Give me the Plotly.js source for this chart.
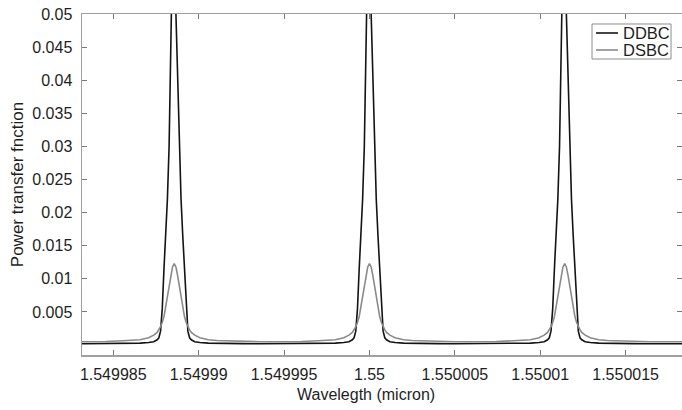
<!DOCTYPE html>
<html>
<head>
<meta charset="utf-8">
<script src="https://cdn.plot.ly/plotly-3.0.1.min.js"></script>
<style>
  html, body { margin: 0; padding: 0; background: #ffffff; }
  #chart { width: 682px; height: 410px; }
</style>
</head>
<body>
<div id="chart"></div>
<script>
// Wavelength samples (micron) across three resonances
const wavelength = [
  1.54998317,
  1.54998357, 1.54998457, 1.54998557, 1.54998607, 1.54998657, 1.54998707, 1.54998737, 1.54998757, 1.54998767,
  1.54998777, 1.54998787, 1.54998797, 1.54998807, 1.54998817, 1.54998827, 1.54998837, 1.54998847, 1.54998857,
  1.54998867, 1.54998877, 1.54998887, 1.54998897, 1.54998907, 1.54998917, 1.54998927, 1.54998937, 1.54998947,
  1.54998957, 1.54998977, 1.54999007, 1.54999057, 1.54999107, 1.54999157, 1.54999257, 1.54999357,
  1.54999429,
  1.549995, 1.549996, 1.549997, 1.5499975, 1.549998, 1.5499985, 1.5499988, 1.549999, 1.5499991,
  1.5499992, 1.5499993, 1.5499994, 1.5499995, 1.5499996, 1.5499997, 1.5499998, 1.5499999, 1.55,
  1.5500001, 1.5500002, 1.5500003, 1.5500004, 1.5500005, 1.5500006, 1.5500007, 1.5500008, 1.5500009,
  1.550001, 1.5500012, 1.5500015, 1.550002, 1.5500025, 1.550003, 1.550004, 1.550005,
  1.55000571,
  1.55000643, 1.55000743, 1.55000843, 1.55000893, 1.55000943, 1.55000993, 1.55001023, 1.55001043, 1.55001053,
  1.55001063, 1.55001073, 1.55001083, 1.55001093, 1.55001103, 1.55001113, 1.55001123, 1.55001133, 1.55001143,
  1.55001153, 1.55001163, 1.55001173, 1.55001183, 1.55001193, 1.55001203, 1.55001213, 1.55001223, 1.55001233,
  1.55001243, 1.55001263, 1.55001293, 1.55001343, 1.55001393, 1.55001443, 1.55001543, 1.55001643,
  1.55001743, 1.5500183
];

// Double-ring (DDBC) power transfer
const ddbc = [
  0.0002,
  0.0002, 0.00022, 0.00024, 0.00026, 0.0003, 0.00038, 0.0005, 0.0008, 0.0011,
  0.0021, 0.0055, 0.0115, 0.0165, 0.022, 0.030, 0.040, 0.050, 0.075,
  0.050, 0.040, 0.030, 0.022, 0.0165, 0.0115, 0.0055, 0.0021, 0.0011,
  0.0008, 0.0005, 0.00038, 0.0003, 0.00026, 0.00024, 0.00022, 0.0002,
  0.0002,
  0.0002, 0.00022, 0.00024, 0.00026, 0.0003, 0.00038, 0.0005, 0.0008, 0.0011,
  0.0021, 0.0055, 0.0115, 0.0165, 0.022, 0.030, 0.040, 0.050, 0.075,
  0.050, 0.040, 0.030, 0.022, 0.0165, 0.0115, 0.0055, 0.0021, 0.0011,
  0.0008, 0.0005, 0.00038, 0.0003, 0.00026, 0.00024, 0.00022, 0.0002,
  0.0002,
  0.0002, 0.00022, 0.00024, 0.00026, 0.0003, 0.00038, 0.0005, 0.0008, 0.0011,
  0.0021, 0.0055, 0.0115, 0.0165, 0.022, 0.030, 0.040, 0.050, 0.075,
  0.050, 0.040, 0.030, 0.022, 0.0165, 0.0115, 0.0055, 0.0021, 0.0011,
  0.0008, 0.0005, 0.00038, 0.0003, 0.00026, 0.00024, 0.00022, 0.0002,
  0.0002, 0.0002
];

// Single-ring (DSBC) power transfer
const dsbc = [
  0.0005,
  0.0005, 0.00055, 0.00065, 0.0007, 0.0008, 0.0011, 0.0015, 0.0019, 0.0023,
  0.0028, 0.0034, 0.0043, 0.0058, 0.0074, 0.0089, 0.0105, 0.0118, 0.0123,
  0.0118, 0.0105, 0.0089, 0.0074, 0.0058, 0.0043, 0.0034, 0.0028, 0.0023,
  0.0019, 0.0015, 0.0011, 0.0008, 0.0007, 0.00065, 0.00055, 0.0005,
  0.0005,
  0.0005, 0.00055, 0.00065, 0.0007, 0.0008, 0.0011, 0.0015, 0.0019, 0.0023,
  0.0028, 0.0034, 0.0043, 0.0058, 0.0074, 0.0089, 0.0105, 0.0118, 0.0123,
  0.0118, 0.0105, 0.0089, 0.0074, 0.0058, 0.0043, 0.0034, 0.0028, 0.0023,
  0.0019, 0.0015, 0.0011, 0.0008, 0.0007, 0.00065, 0.00055, 0.0005,
  0.0005,
  0.0005, 0.00055, 0.00065, 0.0007, 0.0008, 0.0011, 0.0015, 0.0019, 0.0023,
  0.0028, 0.0034, 0.0043, 0.0058, 0.0074, 0.0089, 0.0105, 0.0118, 0.0123,
  0.0118, 0.0105, 0.0089, 0.0074, 0.0058, 0.0043, 0.0034, 0.0028, 0.0023,
  0.0019, 0.0015, 0.0011, 0.0008, 0.0007, 0.00065, 0.00055, 0.0005,
  0.0005, 0.0005
];

// Axis ticks
const xTickVals = [1.549985, 1.54999, 1.549995, 1.55, 1.550005, 1.55001, 1.550015];
const xTickText = ['1.549985', '1.54999', '1.549995', '1.55', '1.550005', '1.55001', '1.550015'];
const yTickVals = [0.005, 0.01, 0.015, 0.02, 0.025, 0.03, 0.035, 0.04, 0.045, 0.05];
const yTickText = ['0.005', '0.01', '0.015', '0.02', '0.025', '0.03', '0.035', '0.04', '0.045', '0.05'];

// Series names and colours (shared by the traces and the legend box)
const seriesNames = ['DDBC', 'DSBC'];
const seriesColors = ['#141414', '#8a8a8a'];

const FONT = 'Liberation Sans, Arial, sans-serif';
const TEXT = '#1e1e1e';

const traces = [
  {
    x: wavelength, y: ddbc, name: seriesNames[0], type: 'scatter', mode: 'lines',
    line: { color: seriesColors[0], width: 1.6 }
  },
  {
    x: wavelength, y: dsbc, name: seriesNames[1], type: 'scatter', mode: 'lines',
    line: { color: seriesColors[1], width: 1.6 }
  }
];

const axisCommon = {
  showgrid: false, zeroline: false,
  showline: true, linecolor: '#a0a0a0', linewidth: 1.5,
  mirror: 'ticks', ticks: 'inside', ticklen: 5, tickwidth: 1, tickcolor: '#777',
  tickfont: { family: FONT, size: 16, color: TEXT }
};

// Compact boxed legend in the upper-right corner of the axes
const legendBox = { x0: 0.85, x1: 0.9817, y0: 0.868, y1: 0.9707 };
const legendRows = [0.9443, 0.8944];
const legendShapes = [
  {
    type: 'rect', xref: 'paper', yref: 'paper',
    x0: legendBox.x0, x1: legendBox.x1, y0: legendBox.y0, y1: legendBox.y1,
    line: { color: '#8c8c8c', width: 1 }, fillcolor: '#ffffff', layer: 'above'
  }
];
const legendLabels = [];
seriesNames.forEach((name, i) => {
  legendShapes.push({
    type: 'line', xref: 'paper', yref: 'paper',
    x0: 0.8567, x1: 0.8933, y0: legendRows[i], y1: legendRows[i],
    line: { color: seriesColors[i], width: 1.6 }, layer: 'above'
  });
  legendLabels.push({
    text: name, xref: 'paper', yref: 'paper',
    x: 0.8975, y: legendRows[i], xanchor: 'left', yanchor: 'middle', showarrow: false,
    font: { family: FONT, size: 16.5, color: TEXT }
  });
});

const layout = {
  width: 682, height: 410,
  margin: { l: 82, r: 0, t: 14, b: 55 },
  paper_bgcolor: '#ffffff', plot_bgcolor: '#ffffff',
  font: { family: FONT, color: TEXT },
  showlegend: false,
  xaxis: Object.assign({}, axisCommon, {
    range: [1.5499831707, 1.5500183],
    tickmode: 'array', tickvals: xTickVals, ticktext: xTickText,
    ticklabelstandoff: 4
  }),
  yaxis: Object.assign({}, axisCommon, {
    range: [-0.0015, 0.05],
    tickmode: 'array', tickvals: yTickVals, ticktext: yTickText,
    ticklabelstandoff: 5,
    title: { text: 'Power transfer fnction', font: { family: FONT, size: 17, color: TEXT }, standoff: 4 }
  }),
  shapes: legendShapes,
  annotations: [
    {
      text: 'Wavelegth (micron)', xref: 'paper', yref: 'paper',
      x: 0.473, y: -0.117, xanchor: 'center', yanchor: 'middle', showarrow: false,
      font: { family: FONT, size: 16, color: TEXT }
    }
  ].concat(legendLabels)
};

Plotly.newPlot('chart', traces, layout, { displayModeBar: false, staticPlot: true });
</script>
</body>
</html>
